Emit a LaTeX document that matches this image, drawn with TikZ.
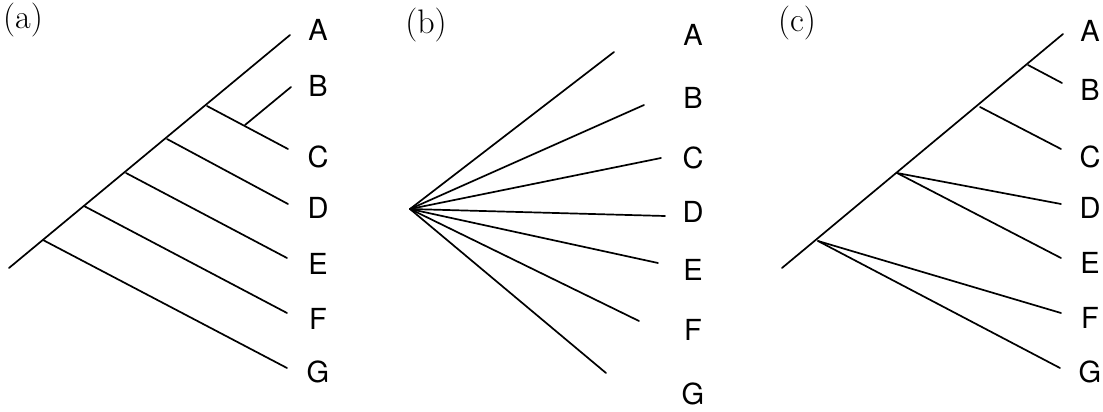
\documentclass[tikz,border=0pt]{standalone}
\usepackage{fontspec}
\newfontfamily\lblfont{TeX Gyre Heros}
\begin{document}
\begin{tikzpicture}[x=1pt,y=-1pt,
  edge/.style={line width=1.7pt,line cap=round},
  leaf/.style={font=\lblfont\fontsize{29}{29}\selectfont,inner sep=0pt,anchor=center},
  panel/.style={font=\fontsize{34}{34}\selectfont,inner sep=0pt,anchor=center}]
\useasboundingbox (0,0) rectangle (1103,412);
% ---------- (a)
\node[panel] (pa) at (23,20) {(a)};
\coordinate (aR) at (9,268);
\coordinate (aG) at (43,240);
\coordinate (aF) at (84,206);
\coordinate (aE) at (126,173);
\coordinate (aD) at (167,139);
\coordinate (aBC) at (207,106);
\coordinate (aB0) at (245,125);
\coordinate (atA) at (290,35);
\coordinate (atB) at (291,87);
\coordinate (atC) at (288,149);
\coordinate (atD) at (288,204);
\coordinate (atE) at (287,258);
\coordinate (atF) at (287,313);
\coordinate (atG) at (287,368);
\draw[edge] (aR) -- (atA);
\draw[edge] (aBC) -- (atC);
\draw[edge] (aB0) -- (atB);
\draw[edge] (aD) -- (atD);
\draw[edge] (aE) -- (atE);
\draw[edge] (aF) -- (atF);
\draw[edge] (aG) -- (atG);
\node[leaf] (aLA) at (318,30) {A};
\node[leaf] (aLB) at (318,86) {B};
\node[leaf] (aLC) at (318,157) {C};
\node[leaf] (aLD) at (318,208) {D};
\node[leaf] (aLE) at (318,264) {E};
\node[leaf] (aLF) at (318,319) {F};
\node[leaf] (aLG) at (318,372) {G};
% ---------- (b)
\node[panel] (pb) at (426,25) {(b)};
\coordinate (bR) at (410,209);
\coordinate (btA) at (614,52);
\coordinate (btB) at (644,105);
\coordinate (btC) at (661,158);
\coordinate (btD) at (665,216);
\coordinate (btE) at (658,263);
\coordinate (btF) at (639,321);
\coordinate (btG) at (606,373);
\foreach \t in {A,B,C,D,E,F,G}{\draw[edge] (bR) -- (bt\t);}
\node[leaf] (bLA) at (693,35) {A};
\node[leaf] (bLB) at (693,98) {B};
\node[leaf] (bLC) at (693,158) {C};
\node[leaf] (bLD) at (693,212) {D};
\node[leaf] (bLE) at (693,270) {E};
\node[leaf] (bLF) at (693,330) {F};
\node[leaf] (bLG) at (693,394) {G};
% ---------- (c)
\node[panel] (pc) at (797,23) {(c)};
\coordinate (cR) at (782,268);
\coordinate (cFG) at (818,241);
\coordinate (cDE) at (897,173);
\coordinate (cC) at (980,107);
\coordinate (cB) at (1028,65);
\coordinate (ctA) at (1063,34);
\coordinate (ctB) at (1062,83);
\coordinate (ctC) at (1061,149);
\coordinate (ctD) at (1061,204);
\coordinate (ctE) at (1061,258);
\coordinate (ctF) at (1061,313);
\coordinate (ctG) at (1060,368);
\draw[edge] (cR) -- (ctA);
\draw[edge] (cB) -- (ctB);
\draw[edge] (cC) -- (ctC);
\draw[edge] (cDE) -- (ctD);
\draw[edge] (cDE) -- (ctE);
\draw[edge] (cFG) -- (ctF);
\draw[edge] (cFG) -- (ctG);
\node[leaf] (cLA) at (1090,31) {A};
\node[leaf] (cLB) at (1090,90) {B};
\node[leaf] (cLC) at (1090,157) {C};
\node[leaf] (cLD) at (1090,208) {D};
\node[leaf] (cLE) at (1090,263) {E};
\node[leaf] (cLF) at (1090,318) {F};
\node[leaf] (cLG) at (1090,372) {G};
\end{tikzpicture}
\end{document}
